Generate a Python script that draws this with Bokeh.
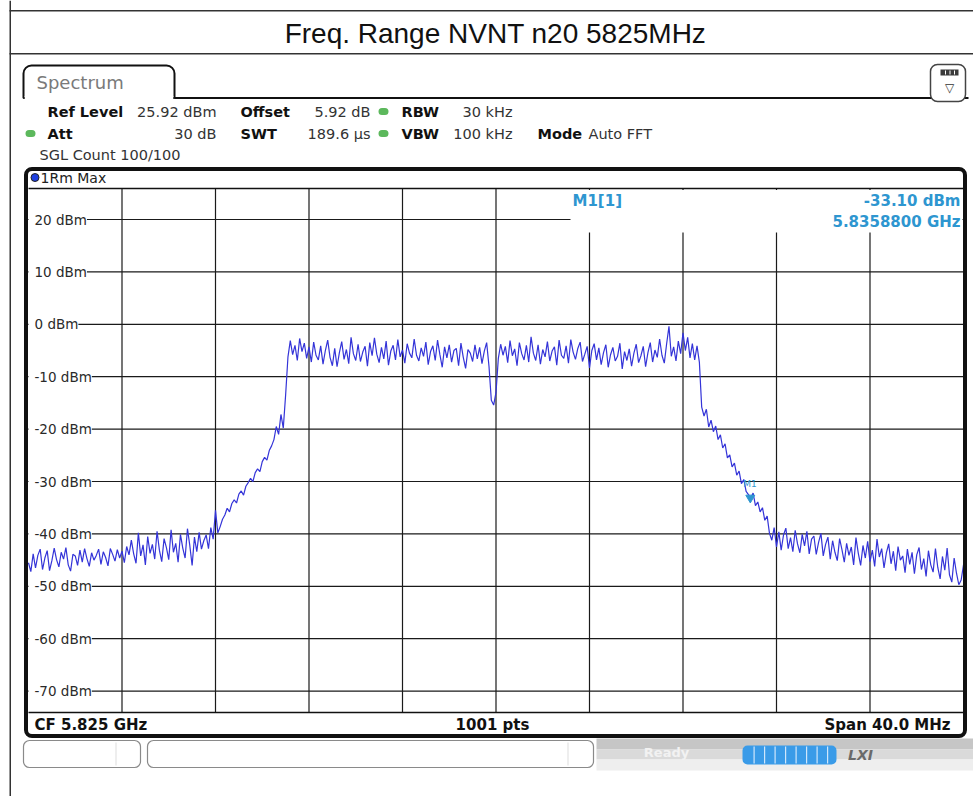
import numpy as np
from bokeh.plotting import figure
from bokeh.models import Range1d, Label, BoxAnnotation
from bokeh.embed import file_html
from bokeh.resources import INLINE

# ---------------- data ----------------
title_text = "Freq. Range NVNT n20 5825MHz"
f_start = 5.805          # GHz
f_stop = 5.845           # GHz
ref_level = 25.92        # dBm (top of display)
bottom_level = -74.08    # dBm (bottom of display)
x_grid = [5.809, 5.813, 5.817, 5.821, 5.825, 5.829, 5.833, 5.837, 5.841]
y_ticks = [20, 10, 0, -10, -20, -30, -40, -50, -60, -70]
y_tick_labels = ["20 dBm", "10 dBm", "0 dBm", "-10 dBm", "-20 dBm", "-30 dBm",
                 "-40 dBm", "-50 dBm", "-60 dBm", "-70 dBm"]

noise_left = [
    -45.5, -47.2, -43.8, -46.5, -44.1, -42.9, -46.8, -44.6, -43.2, -47.0,
    -45.1, -42.7, -44.9, -46.3, -43.5, -44.8, -42.6, -45.9, -47.1, -43.9,
    -44.2, -46.0, -43.1, -45.4, -42.8, -44.7, -46.2, -43.6, -45.0, -44.1,
    -42.9, -45.8, -43.4, -44.5, -46.1, -42.8, -43.9, -45.2, -43.0, -44.6,
    -43.3, -45.5, -42.4, -44.0, -41.2, -43.8, -45.6, -39.8, -44.2, -42.1,
    -45.9, -40.5, -43.7, -42.0, -44.8, -39.5, -43.1, -45.3, -40.9, -42.6,
    -44.9, -39.2, -43.5, -41.8, -45.4, -40.1, -42.7, -44.6, -39.0, -42.2,
    -46.0, -40.6, -43.4, -39.7, -42.9, -41.3, -40.2, -42.8, -38.8, -41.0,
]
rise_left = [
    -35.5, -39.8, -38.6, -37.2, -36.4, -35.1, -35.8, -34.2, -33.5, -34.1,
    -32.4, -31.8, -32.6, -30.9, -30.2, -29.4, -30.0, -28.3, -27.6, -28.1,
    -26.2, -25.4, -25.9, -24.1, -23.2, -22.0, -19.5, -21.0, -17.2, -19.8, -13.5,
]
band_low = [
    -6.2, -3.1, -5.8, -4.0, -6.9, -2.7, -5.2, -3.6, -6.5, -4.3,
    -7.2, -3.4, -5.9, -6.8, -4.1, -7.6, -5.0, -3.0, -6.3, -7.9,
    -4.6, -8.1, -5.4, -3.3, -6.7, -4.8, -7.5, -2.5, -5.6, -6.9,
    -3.8, -7.1, -5.3, -4.2, -8.0, -3.5, -6.0, -2.6, -5.7, -7.3,
    -4.4, -6.6, -3.2, -7.8, -5.1, -4.0, -6.8, -2.9, -6.2, -4.9,
    -7.4, -3.7, -5.5, -6.4, -2.8, -5.9, -7.0, -4.5, -6.1, -3.4,
    -7.7, -5.2, -4.1, -6.9, -3.0, -5.8, -8.2, -4.3, -6.4, -3.9,
    -7.2, -5.0, -4.6, -7.9, -3.6, -6.3, -8.4, -4.8, -5.5, -7.1,
    -3.9, -6.6, -4.4, -7.5, -5.1, -3.5, -8.0,
]
center_dip = [-14.5, -15.4, -13.0]
band_high = [
    -6.5, -3.8, -5.9, -4.2, -7.3, -3.1, -6.0, -4.7, -7.9, -3.5,
    -5.6, -6.8, -4.0, -7.2, -2.4, -5.5, -6.9, -3.9, -7.6, -4.8,
    -6.2, -3.3, -7.0, -5.1, -4.3, -7.8, -3.0, -5.9, -6.5, -4.1,
    -7.4, -2.9, -5.3, -6.7, -4.6, -3.4, -7.1, -5.7, -4.2, -8.3,
    -5.0, -3.7, -6.8, -4.5, -7.7, -5.4, -3.9, -8.2, -5.8, -4.4,
    -7.0, -6.1, -3.6, -8.5, -5.2, -6.9, -4.7, -8.0, -5.5, -3.8,
    -7.3, -6.0, -4.2, -8.1, -5.4, -3.5, -7.2, -4.9, -6.3, -2.8,
    -5.9, -7.4, -3.7, -0.4, -6.1, -4.3, -7.0, -3.2, -5.6, -1.6,
    -5.0, -2.5, -6.4, -3.7, -6.8, -4.1, -7.2,
]
fall_right = [
    -15.8, -17.5, -16.2, -19.6, -18.3, -20.5, -19.4, -22.0, -21.1, -23.6,
    -22.8, -25.5, -24.9, -27.2, -26.5, -28.8, -28.0, -30.4, -29.6, -31.9,
    -32.5, -33.1, -32.2, -34.6, -33.9, -35.8, -35.0, -37.4, -36.6, -39.9,
]
noise_right = [
    -41.2, -38.8, -42.5, -39.6, -43.1, -40.2, -38.9, -42.8, -40.7, -43.4,
    -39.3, -41.9, -43.6, -40.1, -42.3, -39.5, -43.8, -41.0, -40.4, -43.9,
    -41.6, -39.9, -44.2, -42.0, -40.6, -44.8, -41.3, -43.5, -45.1, -40.9,
    -43.0, -45.4, -41.8, -44.1, -42.5, -45.9, -40.7, -43.7, -46.0, -42.2,
    -44.6, -41.4, -45.3, -43.1, -46.2, -41.0, -44.4, -42.8, -46.5, -43.6,
    -41.9, -45.7, -43.3, -47.0, -42.4, -45.0, -44.2, -47.4, -42.9, -45.8,
    -43.5, -47.6, -44.0, -42.6, -46.8, -44.7, -48.1, -43.2, -45.9, -47.3,
    -42.8, -46.4, -48.6, -44.3, -46.9, -42.7, -47.8, -49.2, -44.6, -47.5,
    -49.7, -48.8, -45.9,
]
levels = noise_left + rise_left + band_low + center_dip + band_high + fall_right + noise_right
freqs = np.linspace(f_start, f_stop, len(levels))

marker_freq = 5.83588
marker_level = -33.10
marker_name = "M1[1]"
marker_level_text = "-33.10 dBm"
marker_freq_text = "5.8358800 GHz"

# ---------------- figure ----------------
W, H = 973, 796
PX_L, PX_R, PX_T, PX_B = 28, 963, 188, 712      # diagram area on the page (pixels)

kx = (f_stop - f_start) / (PX_R - PX_L)
ky = (ref_level - bottom_level) / (PX_B - PX_T)
spec_x = Range1d(f_start - PX_L * kx, f_stop + (W - PX_R) * kx)
spec_y = Range1d(bottom_level - (H - PX_B) * ky, ref_level + PX_T * ky)

p = figure(width=W, height=H, x_range=Range1d(0, W), y_range=Range1d(H, 0),
           x_axis_type=None, y_axis_type=None, toolbar_location=None,
           output_backend="svg", min_border=0)
p.background_fill_color = "white"
p.border_fill_color = "white"
p.outline_line_color = None
p.grid.visible = False
p.extra_x_ranges = {"spec": spec_x}
p.extra_y_ranges = {"spec": spec_y}

MONO = "DejaVu Sans"
GRID_C = "#1a1a1a"

# grid of the diagram (through the spectrum scales)
p.segment(x0=x_grid, y0=[bottom_level] * len(x_grid), x1=x_grid, y1=[ref_level] * len(x_grid),
          x_range_name="spec", y_range_name="spec", line_color=GRID_C, line_width=1.2,
          level="image")
p.segment(x0=[f_start] * len(y_ticks), y0=y_ticks, x1=[f_stop] * len(y_ticks), y1=y_ticks,
          x_range_name="spec", y_range_name="spec", line_color=GRID_C, line_width=1.2,
          level="image")
p.segment(x0=[f_start, f_start], y0=[ref_level, bottom_level],
          x1=[f_stop, f_stop], y1=[ref_level, bottom_level],
          x_range_name="spec", y_range_name="spec", line_color="#111111", line_width=1.6,
          level="image")


def box(l, r, t, b, fill=None, line=None, lw=1.0, radius=0, level="annotation"):
    bx = BoxAnnotation(left=l, right=r, top=t, bottom=b,
                       fill_color=fill if fill else "white",
                       fill_alpha=1 if fill else 0,
                       line_color=line if line else "black",
                       line_alpha=1 if line else 0,
                       line_width=lw, border_radius=radius, level=level)
    p.add_layout(bx)
    return bx


def txt(s, x, y, size=14, bold=False, color="#222222", align="left",
        font=MONO, level="annotation", italic=False):
    style = "bold" if bold else "normal"
    if italic:
        style = "bold italic" if bold else "italic"
    lab = Label(x=x, y=y, text=s,
                text_font=font, text_font_size=f"{size}px", text_font_style=style,
                text_color=color, text_align=align, text_baseline="middle",
                level=level)
    p.add_layout(lab)
    return lab


# white areas that hide the grid: marker readout and the label column
box(570, 962, 189.5, 232, fill="white", level="underlay")
box(28.5, 35, 190, 710, fill="white", level="underlay")

# y tick labels inside the diagram
for v, s in zip(y_ticks, y_tick_labels):
    p.add_layout(Label(x=f_start, y=v, x_offset=6, text=s, text_font=MONO,
                       x_range_name="spec", y_range_name="spec",
                       text_font_size="13.5px", text_color="#2a2a2a",
                       text_baseline="middle", text_align="left",
                       background_fill_color="white", level="underlay"))

# trace + marker
p.line(freqs, levels, x_range_name="spec", y_range_name="spec",
       line_color="#3434d8", line_width=1.2)
p.scatter([marker_freq], [marker_level], x_range_name="spec", y_range_name="spec",
          marker="inverted_triangle", size=9, fill_color="#2e96d0", line_color="#2e96d0")
p.add_layout(Label(x=marker_freq, y=marker_level, x_offset=-7, y_offset=9, text="M1",
                   x_range_name="spec", y_range_name="spec",
                   text_font=MONO, text_font_size="9px", text_color="#2e96d0"))

# ---------------- decorations ----------------
# report table lines + title
box(9, 10.5, 0, 796, fill="#333333")
box(9, 973, 9.5, 11, fill="#333333")
box(9, 973, 52.5, 54, fill="#333333")
txt(title_text, 495, 33, size=28, font="Liberation Sans", align="center", color="#111111")

# Spectrum tab
box(23, 174, 65, 97.5, fill="white", line="#111111", lw=2, radius=(8, 8, 0, 0))
box(174, 968, 96.5, 98.5, fill="#111111")
box(24.2, 172.8, 95.6, 100, fill="white")
txt("Spectrum", 36, 82, size=18, color="#7a7a7a")

# icon top right
box(930, 965, 64, 101, fill="white", line="#444444", lw=1.5, radius=7)
box(940, 958, 69, 75, fill="#3a3a3a")
for xx in (944.5, 949, 953.5):
    box(xx, xx + 1, 70, 74, fill="white")
txt("\u25bd", 949, 87, size=12, color="#333333", align="center")

# header rows
HS = 14.5
row1, row2, row3 = 111, 133, 154
txt("Ref Level", 47, row1, size=HS, bold=True, color="#111111")
txt("25.92 dBm", 216, row1, size=HS, align="right", color="#333333")
txt("Offset", 240, row1, size=HS, bold=True, color="#111111")
txt("5.92 dB", 370, row1, size=HS, align="right", color="#333333")
txt("RBW", 401, row1, size=HS, bold=True, color="#111111")
txt("30 kHz", 512, row1, size=HS, align="right", color="#333333")
txt("Att", 47, row2, size=HS, bold=True, color="#111111")
txt("30 dB", 216, row2, size=HS, align="right", color="#333333")
txt("SWT", 240, row2, size=HS, bold=True, color="#111111")
txt("189.6 \u00b5s", 370, row2, size=HS, align="right", color="#333333")
txt("VBW", 401, row2, size=HS, bold=True, color="#111111")
txt("100 kHz", 512, row2, size=HS, align="right", color="#333333")
txt("Mode", 537, row2, size=HS, bold=True, color="#111111")
txt("Auto FFT", 588, row2, size=HS, color="#333333")
txt("SGL Count 100/100", 39, row3, size=HS, color="#333333")
for cx, cy in ((383, row1), (30, row2), (383, row2)):
    box(cx - 5, cx + 5, cy - 3.5, cy + 3.5, fill="#5cb85c", radius=4)

# diagram frame
box(25.5, 964.5, 168.5, 735.5, line="#111111", lw=4, radius=6)
box(30.5, 38.5, 173, 181, fill="#1f3fe0", line="#222222", lw=1, radius=4)
txt("1Rm Max", 40, 177, size=14, color="#222222")

# marker readout
txt(marker_name, 572, 200, size=15, bold=True, color="#2e96d0")
txt(marker_level_text, 960, 200, size=15, bold=True, color="#2e96d0", align="right")
txt(marker_freq_text, 960, 221, size=15, bold=True, color="#2e96d0", align="right")

# bottom info bar
txt("CF 5.825 GHz", 34, 724, size=15, bold=True, color="#111111")
txt("1001 pts", 492, 724, size=15, bold=True, color="#111111", align="center")
txt("Span 40.0 MHz", 950, 724, size=15, bold=True, color="#111111", align="right")

# status bar
box(596, 973, 738, 749, fill="#c6c6c6")
box(596, 973, 749, 759, fill="#dadada")
box(596, 973, 759, 770, fill="#eeeeee")
box(23, 140, 740, 767, fill="white", line="#8a8a8a", lw=1.2, radius=6)
box(115, 116, 742, 765, fill="#dddddd")
box(147, 593, 740, 767, fill="white", line="#8a8a8a", lw=1.2, radius=6)
box(567, 568, 742, 765, fill="#dddddd")
txt("Ready", 666, 752, size=13, bold=True, color="#f2f2f2", align="center")
box(742, 836, 745, 764, fill="#3a9be8", radius=5)
for xx in (753, 763.5, 774, 784.5, 795, 805.5, 816, 826.5):
    box(xx, xx + 1.2, 746, 763, fill="#cfe6fb")
txt("LXI", 860, 754, size=14, bold=True, italic=True, color="#6a6a6a", align="center")

open("out.html", "w").write(file_html(p, INLINE, title="Spectrum"))
